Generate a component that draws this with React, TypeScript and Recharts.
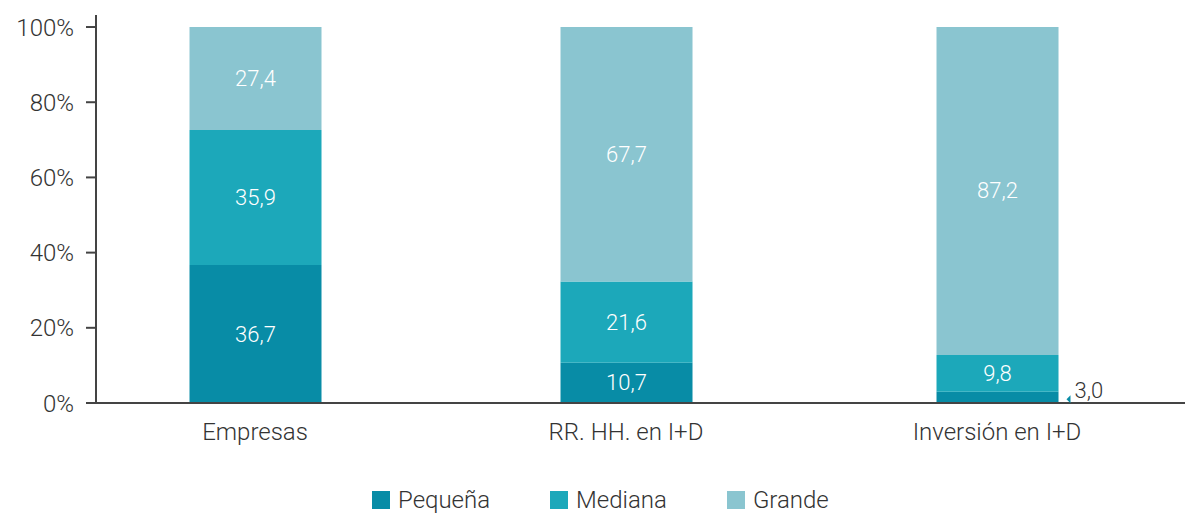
import React from 'react';
import {
  Bar,
  BarChart,
  LabelList,
  Legend,
  Rectangle,
  XAxis,
  YAxis,
} from 'recharts';

const categories = ['Empresas', 'RR. HH. en I+D', 'Inversión en I+D'];
const pequena = [36.7, 10.7, 3.0];
const mediana = [35.9, 21.6, 9.8];
const grande = [27.4, 67.7, 87.2];
const yTicks = [0, 20, 40, 60, 80, 100];

const COLORS = {
  pequena: '#088ca6',
  mediana: '#1ca8ba',
  grande: '#8ac5d0',
};
const TEXT = '#333333';
const AXIS = '#444444';
const FONT = 'Roboto, "Noto Sans", sans-serif';
const WEIGHT = 300;
// the last column is drawn a bit narrower in the original
const INSET = [0, 0, 5];

const data = categories.map((name, i) => ({
  pos: i,
  name,
  pequena: pequena[i],
  mediana: mediana[i],
  grande: grande[i],
}));

const fmt = (v: number) => v.toFixed(1).replace('.', ',');

const SegmentShape = (props: any) => {
  const inset = INSET[props.index] ?? 0;
  return <Rectangle {...props} x={props.x + inset} width={props.width - 2 * inset} />;
};

// small values don't fit inside the bar -> put them to the right with a marker
const SegmentLabel = (props: any) => {
  const { x, y, width, height, value, index } = props;
  if (value == null) return null;
  const cy = y + height / 2;
  if (height < 20) {
    const ax = x + width - (INSET[index] ?? 0) + 8;
    return (
      <g>
        <path d={`M${ax},${cy + 2} L${ax + 4},${cy - 2} L${ax + 4},${cy + 6} Z`} fill={COLORS.pequena} />
        <text
          x={ax + 8}
          y={cy - 7}
          fill={TEXT}
          fontSize={22}
          fontWeight={WEIGHT}
          fontFamily={FONT}
          dominantBaseline="central"
        >
          {fmt(value)}
        </text>
      </g>
    );
  }
  return (
    <text
      x={x + width / 2}
      y={cy}
      fill="#ffffff"
      fontSize={22}
      fontWeight={WEIGHT}
      fontFamily={FONT}
      textAnchor="middle"
      dominantBaseline="central"
    >
      {fmt(value)}
    </text>
  );
};

const legendItems = [
  { key: 'pequena', label: 'Pequeña', color: COLORS.pequena },
  { key: 'mediana', label: 'Mediana', color: COLORS.mediana },
  { key: 'grande', label: 'Grande', color: COLORS.grande },
];

const LegendContent = () => (
  <div style={{ display: 'flex', alignItems: 'center', fontFamily: FONT, fontSize: 24, fontWeight: WEIGHT, color: TEXT, whiteSpace: 'nowrap' }}>
    {legendItems.map((it, i) => (
      <div key={it.key} style={{ display: 'flex', alignItems: 'center', marginRight: i < 2 ? 60 : 0 }}>
        <span style={{ display: 'inline-block', width: 18, height: 18, background: it.color, marginRight: 8 }} />
        <span>{it.label}</span>
      </div>
    ))}
  </div>
);

export default function App() {
  return (
    <div style={{ position: 'absolute', top: 0, left: 0, width: 1185, height: 513, background: '#fff' }}>
      <BarChart
        width={1185}
        height={513}
        data={data}
        margin={{ top: 15, right: 0, bottom: 32, left: 0 }}
      >
        <XAxis
          type="number"
          dataKey="pos"
          domain={[-0.4286, 2.5067]}
          ticks={[0, 1, 2]}
          allowDataOverflow
          tickFormatter={(v: number) => categories[v] ?? ''}
          axisLine={{ stroke: AXIS, strokeWidth: 2 }}
          tickLine={false}
          tickMargin={14}
          height={50}
          tick={{ fill: TEXT, fontSize: 24, fontWeight: WEIGHT, fontFamily: FONT }}
        />
        <YAxis
          domain={[0, 103.2]}
          ticks={yTicks}
          allowDataOverflow
          tickFormatter={(v: number) => `${v}%`}
          axisLine={{ stroke: AXIS, strokeWidth: 2 }}
          tickLine={{ stroke: AXIS, strokeWidth: 2 }}
          tickSize={10}
          tickMargin={12}
          width={96}
          tick={{ fill: TEXT, fontSize: 24, fontWeight: WEIGHT, fontFamily: FONT }}
        />
        <Legend
          content={<LegendContent />}
          height={0}
          wrapperStyle={{ position: 'absolute', top: 486, left: 372, width: 'auto', height: 28 }}
        />
        <Bar dataKey="pequena" stackId="a" fill={COLORS.pequena} barSize={132} shape={SegmentShape} isAnimationActive={false}>
          <LabelList dataKey="pequena" content={<SegmentLabel />} />
        </Bar>
        <Bar dataKey="mediana" stackId="a" fill={COLORS.mediana} barSize={132} shape={SegmentShape} isAnimationActive={false}>
          <LabelList dataKey="mediana" content={<SegmentLabel />} />
        </Bar>
        <Bar dataKey="grande" stackId="a" fill={COLORS.grande} barSize={132} shape={SegmentShape} isAnimationActive={false}>
          <LabelList dataKey="grande" content={<SegmentLabel />} />
        </Bar>
      </BarChart>
    </div>
  );
}
